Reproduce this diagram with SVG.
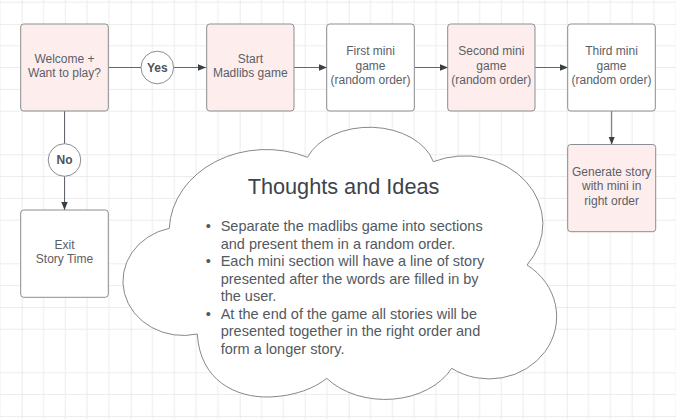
<svg xmlns="http://www.w3.org/2000/svg" width="676" height="419" viewBox="0 0 676 419">
<style>
.node{stroke:#8a8d92;stroke-width:1;}
.pink{fill:#fdeeed;}
.white{fill:#ffffff;}
.lbl{font-family:"Liberation Sans",Arial,sans-serif;font-size:12px;fill:#5b6068;text-anchor:middle;}
.bold{font-weight:bold;fill:#4d535b;}
.conn{stroke:#62666d;stroke-width:1;fill:none;}
.body{font-family:"Liberation Sans",Arial,sans-serif;font-size:14.5px;fill:#535961;}
.title{font-family:"Liberation Sans",Arial,sans-serif;font-size:21.7px;fill:#3d434b;text-anchor:middle;}
</style>
<defs>
<pattern id="grid" patternUnits="userSpaceOnUse" x="21.7" y="24" width="109" height="109">
<path d="M21.8 0V109M43.6 0V109M65.4 0V109M87.2 0V109M0 21.8H109M0 43.6H109M0 65.4H109M0 87.2H109" stroke="#ececec" stroke-width="1" fill="none"/>
<path d="M0 0V109M0 0H109" stroke="#dedede" stroke-width="1.2" fill="none"/>
</pattern>
<marker id="arr" viewBox="0 0 10 10" refX="10" refY="5" markerWidth="8" markerHeight="8" markerUnits="userSpaceOnUse" orient="auto">
<path d="M0 1L10 5L0 9Z" fill="#3a3f45"/>
</marker>
</defs>
<rect width="676" height="419" fill="#ffffff"/>
<rect width="676" height="419" fill="url(#grid)"/>
<g id="connectors">
<path class="conn" d="M108.5 67.5H206" marker-end="url(#arr)"/>
<path class="conn" d="M294 67.5H327" marker-end="url(#arr)"/>
<path class="conn" d="M414.5 67.5H448" marker-end="url(#arr)"/>
<path class="conn" d="M535 67.5H568" marker-end="url(#arr)"/>
<path class="conn" d="M611.7 111H611.7V144.5" marker-end="url(#arr)"/>
<path class="conn" d="M64.5 111V210" marker-end="url(#arr)"/>
</g>
<g id="yes">
<circle class="node white" cx="157.3" cy="67.5" r="16.3"/>
<text class="lbl bold" x="157.3" y="71.8">Yes</text>
</g>
<g id="no">
<circle class="node white" cx="64.5" cy="160" r="16.3"/>
<text class="lbl bold" x="64.5" y="164.3">No</text>
</g>
<g id="welcome">
<rect class="node pink" x="20.7" y="24" width="87.6" height="87" rx="3"/>
<text class="lbl" x="64.5" y="62.6">Welcome +</text>
<text class="lbl" x="64.5" y="77">Want to play?</text>
</g>
<g id="start">
<rect class="node pink" x="206.7" y="24" width="87.3" height="87" rx="3"/>
<text class="lbl" x="250.3" y="62.6">Start</text>
<text class="lbl" x="250.3" y="77">Madlibs game</text>
</g>
<g id="first">
<rect class="node white" x="326.7" y="24" width="87.6" height="87" rx="3"/>
<text class="lbl" x="370.5" y="55">First mini</text>
<text class="lbl" x="370.5" y="69.5">game</text>
<text class="lbl" x="370.5" y="84">(random order)</text>
</g>
<g id="second">
<rect class="node pink" x="447.7" y="24" width="87.3" height="87" rx="3"/>
<text class="lbl" x="491.3" y="55">Second mini</text>
<text class="lbl" x="491.3" y="69.5">game</text>
<text class="lbl" x="491.3" y="84">(random order)</text>
</g>
<g id="third">
<rect class="node white" x="567.7" y="24" width="87.6" height="87" rx="3"/>
<text class="lbl" x="611.5" y="55">Third mini</text>
<text class="lbl" x="611.5" y="69.5">game</text>
<text class="lbl" x="611.5" y="84">(random order)</text>
</g>
<g id="generate">
<rect class="node pink" x="567.7" y="144.5" width="88" height="87.2" rx="3"/>
<text class="lbl" x="611.7" y="175.5">Generate story</text>
<text class="lbl" x="611.7" y="190">with mini in</text>
<text class="lbl" x="611.7" y="204.5">right order</text>
</g>
<g id="exit">
<rect class="node white" x="20.7" y="210" width="87.6" height="87.3" rx="3"/>
<text class="lbl" x="64.5" y="248.5">Exit</text>
<text class="lbl" x="64.5" y="263">Story Time</text>
</g>
<g id="thoughts">
<path d="M169.3 228.3A97 82 0 0 1 307.5 157.3A66 46 0 0 1 433.3 161.7A78 68 0 0 1 527 265A67 62 0 0 1 451.7 368.3A74 55 0 0 1 326.7 378.3C315 388 295 396 270 397C235 398 200 380 197.3 334A60 54 0 0 1 169.3 228.3Z" fill="#ffffff" stroke="#85888d" stroke-width="1"/>
<text class="title" x="343.5" y="194">Thoughts and Ideas</text>
<g class="body">
<text x="205.8" y="231">•</text>
<text x="220.7" y="231">Separate the madlibs game into sections</text>
<text x="220.7" y="248.5">and present them in a random order.</text>
<text x="205.8" y="266">•</text>
<text x="220.7" y="266">Each mini section will have a line of story</text>
<text x="220.7" y="283.5">presented after the words are filled in by</text>
<text x="220.7" y="301">the user.</text>
<text x="205.8" y="318.5">•</text>
<text x="220.7" y="318.5">At the end of the game all stories will be</text>
<text x="220.7" y="336">presented together in the right order and</text>
<text x="220.7" y="353.5">form a longer story.</text>
</g>
</g>
</svg>
